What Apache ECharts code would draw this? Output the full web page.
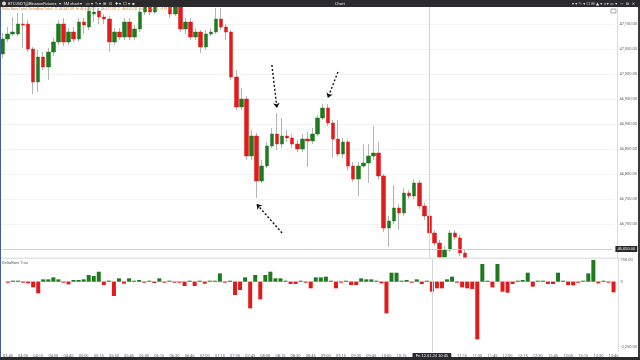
<!DOCTYPE html>
<html><head><meta charset="utf-8">
<script src="https://cdn.jsdelivr.net/npm/echarts@6/dist/echarts.min.js"></script>
<style>html,body{margin:0;padding:0;background:#fff}#c{width:640px;height:360px}</style>
</head><body><div id="c"></div>
<script>
// ---- data ----
const startMinutes = 3*60 + 45;   // first candle time
const candleCount = 121;          // number of 5-minute bars in view
const openP  = [47040,47070,47080,47080,47100,47100,47050,46984,47034,47014,47044,47064,47100,47064,47084,47070,47104,47094,47120,47126,47114,47110,47064,47084,47074,47104,47074,47090,47124,47136,47124,47138,47164,47136,47120,47136,47090,47104,47074,47084,47054,47080,47084,47110,47094,47084,46994,46934,46950,46836,46876,46786,46816,46856,46880,46860,46876,46872,46860,46850,46870,46866,46880,46912,46932,46902,46870,46840,46864,46816,46790,46816,46822,46836,46842,46796,46692,46706,46732,46722,46762,46756,46782,46736,46716,46682,46662,46634,46648,46682,46672,46642];
const closeP = [47070,47080,47084,47100,47098,47050,46984,47034,47014,47044,47064,47100,47064,47084,47070,47104,47098,47126,47124,47114,47110,47064,47084,47074,47104,47074,47090,47124,47136,47124,47138,47164,47140,47120,47136,47090,47104,47074,47084,47054,47080,47084,47110,47094,47084,46994,46934,46950,46836,46876,46786,46816,46856,46880,46860,46876,46872,46860,46850,46870,46866,46880,46912,46932,46902,46870,46840,46864,46816,46790,46816,46822,46836,46842,46796,46692,46706,46732,46722,46762,46756,46782,46736,46716,46682,46662,46634,46648,46682,46674,46642,46620];
const lowP   = [47032,47064,47076,47076,47052,47044,46960,46964,47008,46988,47036,47058,47056,47058,47064,47064,47080,47088,47104,47100,47100,47044,47058,47068,47068,47068,47068,47084,47118,47118,47120,47136,47136,47112,47116,47084,47080,47068,47068,47042,47048,47076,47080,47088,47068,46988,46928,46928,46828,46828,46752,46782,46812,46852,46848,46852,46864,46852,46844,46844,46814,46860,46876,46908,46896,46832,46834,46832,46808,46784,46756,46812,46782,46828,46788,46684,46654,46700,46688,46716,46750,46750,46730,46708,46676,46656,46624,46624,46644,46668,46636,46612];
const highP  = [47082,47094,47114,47122,47122,47108,47054,47048,47044,47052,47072,47108,47112,47092,47094,47112,47112,47138,47136,47132,47120,47116,47092,47092,47112,47112,47098,47132,47144,47144,47146,47172,47176,47144,47142,47142,47112,47112,47092,47088,47088,47092,47132,47132,47100,47088,47008,46972,46956,46888,46882,46828,46864,46892,46922,46912,46888,46880,46868,46880,46884,46892,46918,46940,46940,46908,46908,46872,46868,46824,46824,46860,46860,46896,46864,46800,46716,46778,46740,46772,46768,46790,46788,46742,46722,46688,46668,46656,46688,46688,46678,46648];
const deltaValues = [-15,15,15,-15,-58,-197,-405,81,81,150,81,-35,-93,58,58,81,231,197,347,-116,35,-497,116,-69,116,12,58,-12,12,-46,116,-23,35,-35,-35,-150,12,-150,12,-69,35,12,289,-12,12,-463,-289,150,-926,231,-613,231,347,116,116,35,-81,-81,12,-35,-231,150,150,174,12,-231,-12,12,-116,-116,116,81,81,12,-58,-1099,312,312,12,58,-12,81,-81,12,-347,-231,-231,81,174,-12,-197,-231,-255,-2002,613,12,-197,613,-347,-382,-81,12,58,312,-174,12,35,-81,-81,312,12,-116,-127,-12,35,289,752,-58,12,-12,-370];
const priceTicks = [46700,46750,46800,46850,46900,46950,47000,47050,47100];
const deltaTicks = [750,0,-2250];
const crosshairIndex = 84;
const crosshairPrice = 46650;
const arrows = [[53,47018,54,46932],[66,47004,64,46952],[55,46682,50,46740]];

// ---- build ----
const pad = n => (n<10?'0':'')+n;
const categories = [];
for (let i=0;i<candleCount;i++){ const m=startMinutes+5*i; categories.push(pad(Math.floor(m/60)%24)+':'+pad(m%60)); }
const fmt = v => v===0 ? '0' : v.toLocaleString('en-US',{minimumFractionDigits:2,maximumFractionDigits:2});
const GREEN='#1f7a1f', RED='#e11b1b', WICK='#b4b4b4';

const wickData=[], bodyData=[];
for (let i=0;i<candleCount;i++){
  if (i<openP.length){
    wickData.push([openP[i],closeP[i],lowP[i],highP[i]]);
    bodyData.push([openP[i],closeP[i],Math.min(openP[i],closeP[i]),Math.max(openP[i],closeP[i])]);
  } else { wickData.push('-'); bodyData.push('-'); }
}
const deltaData = deltaValues.map(v=>({value:v,itemStyle:{color:v>=0?GREEN:RED}}));

const chart = echarts.init(document.getElementById('c'),null,{renderer:'canvas'});
const smallFont = {fontFamily:'Roboto, "DejaVu Sans", sans-serif'};
chart.setOption({
  animation:false,
  backgroundColor:'#ffffff',
  grid:[
    {left:-0.56, right:20.4, top:7, bottom:102},
    {left:-0.56, right:20.4, top:259, bottom:8}
  ],
  xAxis:[
    {type:'category',gridIndex:0,data:categories,boundaryGap:true,axisLabel:{show:false},axisTick:{show:false},axisLine:{show:false},splitLine:{show:false}},
    {type:'category',gridIndex:1,data:categories,boundaryGap:true,
     axisLabel:{interval:2,fontSize:4,color:'#666',margin:2,...smallFont},
     axisTick:{show:false},axisLine:{show:true,lineStyle:{color:'#e2e2e2',width:1}},splitLine:{show:false}}
  ],
  yAxis:[
    {type:'value',gridIndex:0,position:'right',offset:2.5,min:46632,max:47134,scale:true,
     axisLine:{show:true,lineStyle:{color:'#dcdcdc'}},
     axisTick:{show:false,customValues:priceTicks},
     axisLabel:{customValues:priceTicks,formatter:fmt,fontSize:4,color:'#666',margin:2,...smallFont},
     splitLine:{show:true,lineStyle:{color:'#f3f3f3',width:1}}},
    {type:'value',gridIndex:1,position:'right',offset:2.5,min:-2440,max:787,
     axisLine:{show:true,lineStyle:{color:'#dcdcdc'}},
     axisTick:{show:false,customValues:deltaTicks},
     axisLabel:{customValues:deltaTicks,formatter:fmt,fontSize:4,color:'#666',margin:2,...smallFont},
     splitLine:{show:false}}
  ],
  series:[
    {type:'candlestick',xAxisIndex:0,yAxisIndex:0,data:wickData,barWidth:1,clip:true,
     itemStyle:{color:WICK,color0:WICK,borderColor:WICK,borderColor0:WICK,borderWidth:1},
     markLine:{silent:true,symbol:['none','none'],animation:false,
       lineStyle:{color:'#d4d4d4',type:'solid',width:1},
       label:{show:false},
       data:[{xAxis:categories[crosshairIndex]}]}},
    {type:'candlestick',xAxisIndex:0,yAxisIndex:0,data:bodyData,barWidth:4,clip:true,
     itemStyle:{color:GREEN,color0:RED,borderColor:GREEN,borderColor0:RED,borderWidth:0.5},
     markLine:{silent:true,animation:false,symbol:['none','arrow'],symbolSize:5,
       lineStyle:{color:'#111',type:[2,2],width:1.4},
       label:{show:false},
       data:arrows.map(a=>[{coord:[categories[a[0]],a[1]]},{coord:[categories[a[2]],a[3]]}]).concat([
         [{coord:[categories[0],crosshairPrice],symbol:'none',lineStyle:{color:'#cfcfcf',type:'solid',width:1},label:{show:true,position:'end',formatter:fmt(crosshairPrice),backgroundColor:'#2a2a2a',color:'#fff',fontSize:4,padding:[1,2],distance:3}},
          {coord:[categories[candleCount-1],crosshairPrice],symbol:'none'}]
       ])}},
    {type:'bar',xAxisIndex:1,yAxisIndex:1,data:deltaData,barWidth:4,barMinHeight:1,z:3,
     markLine:{silent:true,animation:false,symbol:['none','none'],
       data:[
         {xAxis:categories[crosshairIndex],lineStyle:{color:'#d4d4d4',type:'solid',width:1},
          label:{show:true,position:'start',formatter:'Fri 12.01.24 '+categories[crosshairIndex],backgroundColor:'#2a2a2a',color:'#fff',fontSize:4,padding:[1,3],distance:1}},
         {yAxis:deltaValues[deltaValues.length-1],lineStyle:{opacity:0},
          label:{show:true,position:'end',formatter:fmt(deltaValues[deltaValues.length-1]),backgroundColor:RED,color:'#fff',fontSize:4,padding:[1,2],distance:3}}
       ]}}
  ],
  graphic:[
    {type:'rect',shape:{x:434,y:259,width:40,height:12},style:{fill:'#ffffff'},z:40},
    {type:'rect',shape:{x:0,y:0,width:640,height:7},style:{fill:'#2b2b2d'},z:100},
    {type:'circle',shape:{cx:4,cy:3.5,r:2},style:{fill:'#ddd'},z:101},
    {type:'text',x:8,y:1.5,style:{text:'BTCUSDT@BinanceFutures  ▾   5M chart ▾    ▭ ▾  ✎ ▾  ⊞   ⊡   ✚ ▾  ☐ ▾  ■',fontSize:4,fill:'#e6e6e6',fontFamily:'Roboto, sans-serif'},z:101},
    {type:'text',x:335,y:1.5,style:{text:'Chart',fontSize:4,fill:'#e6e6e6',fontFamily:'Roboto, sans-serif'},z:101},
    {type:'text',x:572,y:1.5,style:{text:'▾ ▾ ✎ ▾ ☐ ⊟ ▲ ▾ ⌗ ▾ ▭ ▾  —  ⧉  ✕',fontSize:4,fill:'#e6e6e6',fontFamily:'"DejaVu Sans", sans-serif'},z:101},
    {type:'text',x:2,y:7.5,style:{text:'Delta Bars Total (DeltaBarsTotal)  O: 46,642.00  H: 46,648.00  L: 46,612.00  C: 46,620.00  Vol: 1,254  Δ: -370.00',fontSize:3.5,fill:'#d9892e',fontFamily:'Roboto, sans-serif'},z:101},
    {type:'rect',shape:{x:0,y:257.5,width:622,height:1.5},style:{fill:'#e4e4e4'},z:50},
    {type:'text',x:2,y:261,style:{text:'DeltaBars Trus',fontSize:4,fill:'#666',fontFamily:'Roboto, sans-serif'},z:101},
    {type:'rect',shape:{x:611,y:9,width:5,height:4},style:{fill:'none',stroke:'#777',lineWidth:0.6},z:101},
    {type:'rect',shape:{x:0,y:357,width:640,height:3},style:{fill:'#2b2b2d'},z:100},
    {type:'rect',shape:{x:0,y:7,width:1,height:350},style:{fill:'#3f5f9f'},z:100},
    {type:'rect',shape:{x:638,y:7,width:2,height:350},style:{fill:'#3a3a3c'},z:100}
  ]
});
</script></body></html>
